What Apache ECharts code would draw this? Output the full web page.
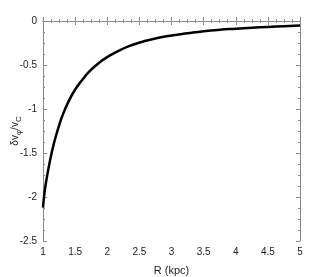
<!DOCTYPE html>
<html><head><meta charset="utf-8">
<script src="https://cdn.jsdelivr.net/npm/echarts@6/dist/echarts.min.js"></script>
<style>html,body{margin:0;padding:0;background:#fff}#c{width:332px;height:277px}</style>
</head><body><div id="c"></div>
<script>
const radius = [1.0,1.02,1.05,1.1,1.15,1.2,1.25,1.3,1.4,1.5,1.6,1.7,1.8,1.9,2.0,2.2,2.4,2.6,2.8,3.0,3.25,3.5,3.75,4.0,4.25,4.5,4.75,5.0];
const dv = [-2.12,-1.97,-1.82,-1.62,-1.45,-1.31,-1.19,-1.08,-0.91,-0.78,-0.68,-0.59,-0.52,-0.46,-0.41,-0.33,-0.27,-0.225,-0.19,-0.165,-0.14,-0.117,-0.10,-0.088,-0.077,-0.067,-0.059,-0.052];
const xTicks = [1,1.5,2,2.5,3,3.5,4,4.5,5];
const yTicks = [-2.5,-2,-1.5,-1,-0.5,0];

const chart = echarts.init(document.getElementById('c'));
const axisCol = '#8a8a8a';
const font = 'Liberation Sans, Arial, sans-serif';
const fmt = v => String(v);
const common = (show) => ({
  axisLine: {show: true, lineStyle: {color: axisCol, width: 1}},
  axisTick: {show: true, inside: true, length: 4, lineStyle: {color: axisCol}},
  minorTick: {show: true, splitNumber: 4, length: 2, lineStyle: {color: axisCol}},
  splitLine: {show: false},
  axisLabel: {show: show, color: '#222', fontSize: 10, fontFamily: font, margin: 6, formatter: fmt}
});
chart.setOption({
  animation: false,
  grid: {left: 43, right: 32, top: 21, bottom: 36, show: false, containLabel: false, outerBoundsMode: 'none'},
  xAxis: [
    Object.assign({type: 'value', min: xTicks[0], max: xTicks[xTicks.length-1], interval: 0.5, position: 'bottom',
      name: 'R (kpc)', nameLocation: 'middle', nameGap: 24, nameMoveOverlap: false,
      nameTextStyle: {color: '#222', fontSize: 11, fontFamily: font}}, common(true)),
    Object.assign({type: 'value', min: 1, max: 5, interval: 0.5, position: 'top'}, common(false))
  ],
  yAxis: [
    Object.assign({type: 'value', min: yTicks[0], max: yTicks[yTicks.length-1], interval: 0.5, position: 'left',
      name: '{a|δv}{s|φ}{a|/v}{s|C}', nameLocation: 'middle', nameGap: 20, nameRotate: 90, nameMoveOverlap: false,
      nameTextStyle: {color: '#222', fontFamily: font, rich: {
        a: {fontSize: 10, fontFamily: font, color: '#222'},
        s: {fontSize: 8, fontFamily: font, color: '#222', padding: [7,0,0,0]}
      }}}, common(true)),
    Object.assign({type: 'value', min: -2.5, max: 0, interval: 0.5, position: 'right'}, common(false))
  ],
  series: [{
    type: 'line', xAxisIndex: 0, yAxisIndex: 0, smooth: true, showSymbol: false,
    lineStyle: {color: '#000', width: 2.5},
    data: radius.map((r, i) => [r, dv[i]])
  }]
});
</script></body></html>
